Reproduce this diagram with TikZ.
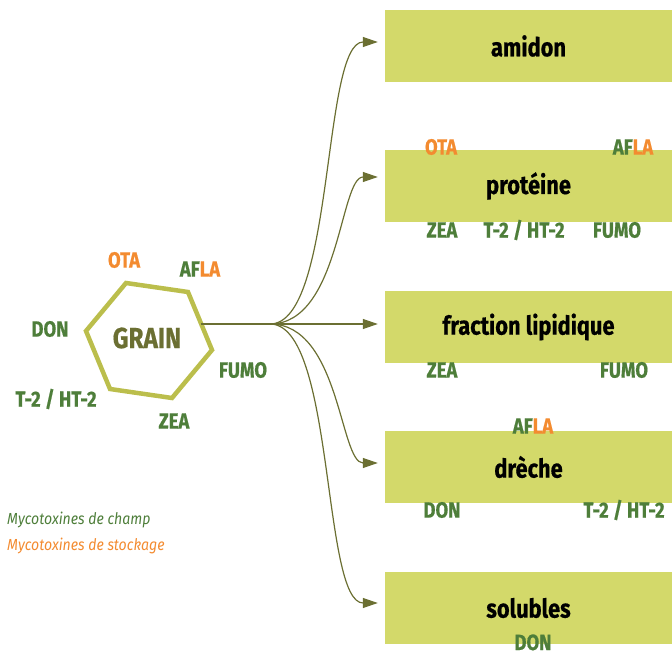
\documentclass[tikz,border=0pt]{standalone}
\usepackage{fontspec}
\setmainfont{Fira Sans}
\newfontfamily\condbold[FakeStretch=0.84,FakeBold=0.6]{Fira Sans Bold}
\newfontfamily\conditalic[FakeStretch=0.88]{Fira Sans Italic}
\usetikzlibrary{arrows.meta,calc}

\definecolor{boxfill}{RGB}{211,217,106}
\definecolor{fieldgreen}{RGB}{78,126,58}
\definecolor{storeorange}{RGB}{243,139,48}
\definecolor{olive}{RGB}{107,111,50}
\definecolor{hexline}{RGB}{187,190,76}

\tikzset{
  fraction/.style={fill=boxfill, minimum width=287pt, minimum height=72pt,
    inner sep=0pt, font=\condbold\fontsize{26}{26}\selectfont, text=black},
  toxin/.style={font=\condbold\fontsize{22}{22}\selectfont, text=fieldgreen, inner sep=0pt},
  stock/.style={toxin, text=storeorange},
  legend/.style={font=\conditalic\fontsize{16}{16}\selectfont, anchor=west, inner sep=0pt},
  flow/.style={draw=olive, line width=1.2pt, -{Triangle[length=15pt,width=10pt]}},
}

% green "AF" followed by orange "LA"
\newcommand{\afla}{AF\textcolor{storeorange}{LA}}

\begin{document}
\begin{tikzpicture}[x=1pt,y=1pt]
\useasboundingbox (0,0) rectangle (672,657);

% the grain
\draw[hexline, line width=4.5pt, line join=miter]
  (126,374) -- (188,365) -- (212,307) -- (172,259) -- (110,268) -- (86,326) -- cycle;
\node[font=\condbold\fontsize{29}{29}\selectfont, text=olive] (grain) at (147,319) {GRAIN};

% mycotoxins around the grain
\node[stock] (g-ota) at (124,397) {OTA};
\node[toxin] (g-afla) at (200,388) {\afla};
\node[toxin] (g-don) at (50,328) {DON};
\node[toxin] (g-fumo) at (243,287) {FUMO};
\node[toxin] (g-t2) at (56,258) {T-2 / HT-2};
\node[toxin] (g-zea) at (174,236) {ZEA};

% fractions
\node[fraction] (amidon) at (528.5,611) {amidon};
\node[fraction] (proteine) at (528.5,471) {protéine};
\node[fraction] (lipide) at (528.5,330) {fraction lipidique};
\node[fraction] (dreche) at (528.5,190) {drèche};
\node[fraction] (solubles) at (528.5,49) {solubles};

% mycotoxins found in each fraction
\node[stock] (p-ota) at (441,510) {OTA};
\node[toxin] (p-afla) at (633,510) {\afla};
\node[toxin] (p-zea) at (442,427) {ZEA};
\node[toxin] (p-t2) at (524,427) {T-2 / HT-2};
\node[toxin] (p-fumo) at (617,427) {FUMO};
\node[toxin] (l-zea) at (442,287) {ZEA};
\node[toxin] (l-fumo) at (624,287) {FUMO};
\node[toxin] (d-afla) at (533,231) {\afla};
\node[toxin] (d-don) at (442,147) {DON};
\node[toxin] (d-t2) at (624,147) {T-2 / HT-2};
\node[toxin, anchor=base] (s-don) at (533,7) {DON};

% flows from the grain to the fractions
\coordinate (hexout) at (201,333);
\coordinate (split) at (270,333);
\coordinate (t1) at ($(amidon.west)+(-7,4)$);
\coordinate (t2) at ($(proteine.west)+(-7,9)$);
\coordinate (t3) at ($(lipide.west)+(-7,3)$);
\coordinate (t4) at ($(dreche.west)+(-7,4)$);
\coordinate (t5) at ($(solubles.west)+(-7,5)$);
\draw[olive, line width=1.6pt] (hexout) -- (split);
\draw[flow] (split) .. controls +(65,0) and +(-56,0) .. (t1);
\draw[flow] (split) .. controls +(70,0) and +(-38,0) .. (t2);
\draw[flow] (split) -- (t3);
\draw[flow] (split) .. controls +(70,0) and +(-38,0) .. (t4);
\draw[flow] (split) .. controls +(65,0) and +(-56,0) .. (t5);

% legend
\node[legend, text=fieldgreen] (leg-champ) at (7,137) {Mycotoxines de champ};
\node[legend, text=storeorange] (leg-stock) at (7,111) {Mycotoxines de stockage};
\end{tikzpicture}
\end{document}
